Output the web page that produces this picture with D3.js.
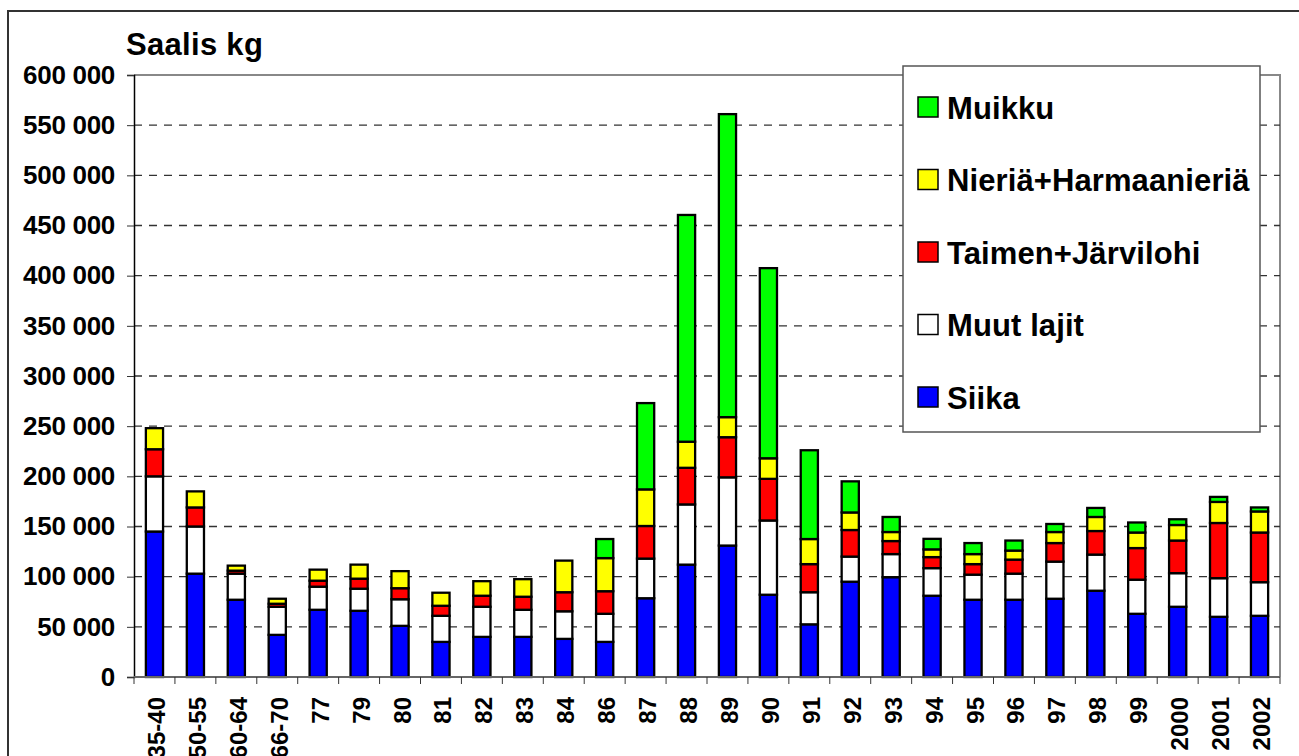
<!DOCTYPE html>
<html>
<head>
<meta charset="utf-8">
<script src="https://cdn.jsdelivr.net/npm/d3@7"></script>
<style>
  body { margin: 0; background: #fff; }
  svg { display: block; font-family: "Liberation Sans", Arial, sans-serif; font-weight: bold; }
</style>
</head>
<body>
<script>
// saalis kg per vuosi / jakso
var categories = ["35-40", "50-55", "60-64", "66-70", "77", "79", "80", "81", "82", "83", "84", "86",
  "87", "88", "89", "90", "91", "92", "93", "94", "95", "96", "97", "98", "99", "2000", "2001", "2002"];

var siika  = [145000, 103000, 77000, 42000, 67000, 66000, 51000, 35000, 40000, 40000, 38000, 35000,
  78500, 112000, 131000, 82000, 52500, 95000, 99500, 81000, 77000, 77000, 78000, 86000, 63000, 70000, 60000, 61000];
var muut   = [55000, 47000, 26000, 28000, 23000, 22000, 26500, 26000, 30000, 27000, 27500, 28000,
  39500, 60000, 68000, 74000, 32000, 25000, 23000, 27500, 25000, 26000, 37000, 36000, 34000, 33500, 38500, 33500];
var taimen = [27000, 19000, 3000, 3000, 6000, 10000, 11000, 10000, 11000, 13000, 19000, 22500,
  32500, 36500, 40000, 41500, 28000, 26500, 13000, 11000, 10500, 14000, 18500, 23500, 31500, 32500, 55000, 49500];
var nieria = [21000, 16000, 5000, 5000, 11000, 14000, 17000, 13000, 14500, 17500, 31500, 33000,
  36500, 26000, 20000, 20500, 25000, 17500, 9000, 7700, 10000, 9000, 11000, 14000, 15500, 15500, 21000, 21000];
var muikku = [0, 0, 0, 0, 0, 0, 0, 0, 0, 0, 0, 19000,
  86000, 226000, 302000, 189500, 88500, 31000, 15000, 10500, 11000, 10000, 8000, 9000, 10000, 5700, 5000, 4000];

var yTicks = [0, 50000, 100000, 150000, 200000, 250000, 300000, 350000, 400000, 450000, 500000, 550000, 600000];

var series = [
  { key: "siika", name: "Siika", values: siika, color: "#0000ff" },
  { key: "muut", name: "Muut lajit", values: muut, color: "#ffffff" },
  { key: "taimen", name: "Taimen+Järvilohi", values: taimen, color: "#ff0000" },
  { key: "nieria", name: "Nieriä+Harmaanieriä", values: nieria, color: "#ffff00" },
  { key: "muikku", name: "Muikku", values: muikku, color: "#00ff00" }
];

function fmt(v) {
  return d3.format(",")(v).replace(/,/g, " ");
}

function drawChart() {
  var width = 1299, height = 756;
  var left = 134, right = 1280, top = 75, bottom = 677;

  var svg = d3.select("body").append("svg")
    .attr("width", width)
    .attr("height", height);

  // ulkokehys
  svg.append("rect")
    .attr("x", 8).attr("y", 11)
    .attr("width", width + 20).attr("height", height + 20)
    .attr("fill", "#fff")
    .attr("stroke", "#333")
    .attr("stroke-width", 2);

  var x = d3.scaleBand()
    .domain(categories)
    .range([left, right])
    .paddingInner(0.58)
    .paddingOuter(0.29);

  var y = d3.scaleLinear()
    .domain([0, 600000])
    .range([bottom, top]);

  // plot area border (top + right)
  svg.append("path")
    .attr("d", "M" + left + "," + top + "H" + right + "V" + bottom)
    .attr("fill", "none")
    .attr("stroke", "#888")
    .attr("stroke-width", 2);

  // dashed grid
  svg.append("g").selectAll("line")
    .data(yTicks.filter(function(t) { return t > 0 && t < 600000; }))
    .join("line")
    .attr("x1", left).attr("x2", right)
    .attr("y1", function(d) { return y(d); })
    .attr("y2", function(d) { return y(d); })
    .attr("stroke", "#333")
    .attr("stroke-width", 1.3)
    .attr("stroke-dasharray", "8,7");

  // stacked bars
  var rows = categories.map(function(c, i) {
    var r = { cat: c };
    series.forEach(function(s) { r[s.key] = s.values[i]; });
    return r;
  });

  var stack = d3.stack().keys(series.map(function(s) { return s.key; }));
  var layers = stack(rows);

  svg.append("g").selectAll("g")
    .data(layers)
    .join("g")
    .attr("fill", function(d, i) { return series[i].color; })
    .selectAll("rect")
    .data(function(d) { return d.filter(function(p) { return p[1] - p[0] > 0; }); })
    .join("rect")
    .attr("x", function(d) { return x(d.data.cat); })
    .attr("width", x.bandwidth())
    .attr("y", function(d) { return y(d[1]); })
    .attr("height", function(d) { return y(d[0]) - y(d[1]); })
    .attr("stroke", "#000")
    .attr("stroke-width", 2.3);

  // y axis
  var yAxis = svg.append("g")
    .attr("transform", "translate(" + left + ",0)")
    .call(d3.axisLeft(y).tickValues(yTicks).tickSize(7).tickPadding(12).tickFormat(fmt));
  yAxis.select(".domain").attr("stroke", "#000").attr("stroke-width", 1.5);
  yAxis.selectAll(".tick line").attr("stroke", "#333");
  yAxis.selectAll("text")
    .attr("font-size", "26px")
    .attr("font-weight", "bold")
    .attr("font-family", "'Liberation Sans', Arial, sans-serif")
    .attr("letter-spacing", "-0.3px")
    .attr("fill", "#000");

  // x axis: ticks between categories
  var step = x.step();
  var edges = d3.range(categories.length + 1).map(function(i) { return left + i * step; });
  svg.append("line")
    .attr("x1", left).attr("x2", right)
    .attr("y1", bottom).attr("y2", bottom)
    .attr("stroke", "#666")
    .attr("stroke-width", 2);
  svg.append("g").selectAll("line")
    .data(edges)
    .join("line")
    .attr("x1", function(d) { return d; }).attr("x2", function(d) { return d; })
    .attr("y1", bottom).attr("y2", bottom + 7)
    .attr("stroke", "#333");

  svg.append("g").selectAll("text")
    .data(categories)
    .join("text")
    .attr("transform", function(d) {
      return "translate(" + (x(d) + x.bandwidth() / 2 + 2) + "," + (bottom + 20) + ") rotate(-90)";
    })
    .attr("text-anchor", "end")
    .attr("dominant-baseline", "central")
    .attr("font-size", "24px")
    .text(function(d) { return d; });

  // otsikko
  svg.append("text")
    .attr("x", 126)
    .attr("y", 55)
    .attr("font-size", "31px")
    .attr("letter-spacing", "0.3px")
    .text("Saalis kg");

  // legend
  var legend = svg.append("g");
  legend.append("rect")
    .attr("x", 903).attr("y", 66)
    .attr("width", 357).attr("height", 366)
    .attr("fill", "#fff")
    .attr("stroke", "#555")
    .attr("stroke-width", 1.5);

  var legendItems = series.slice().reverse();
  var ly = d3.scalePoint()
    .domain(legendItems.map(function(s) { return s.key; }))
    .range([107, 397]);

  var item = legend.selectAll("g")
    .data(legendItems)
    .join("g")
    .attr("transform", function(d) { return "translate(918," + ly(d.key) + ")"; });
  item.append("rect")
    .attr("x", 0).attr("y", -10)
    .attr("width", 20).attr("height", 20)
    .attr("fill", function(d) { return d.color; })
    .attr("stroke", "#000")
    .attr("stroke-width", 1.5);
  item.append("text")
    .attr("x", 29)
    .attr("y", 1)
    .attr("dominant-baseline", "central")
    .attr("font-size", "31px")
    .attr("letter-spacing", "0.1px")
    .text(function(d) { return d.name; });
}

document.addEventListener("DOMContentLoaded", function(event) {
  drawChart();
});
</script>
</body>
</html>
